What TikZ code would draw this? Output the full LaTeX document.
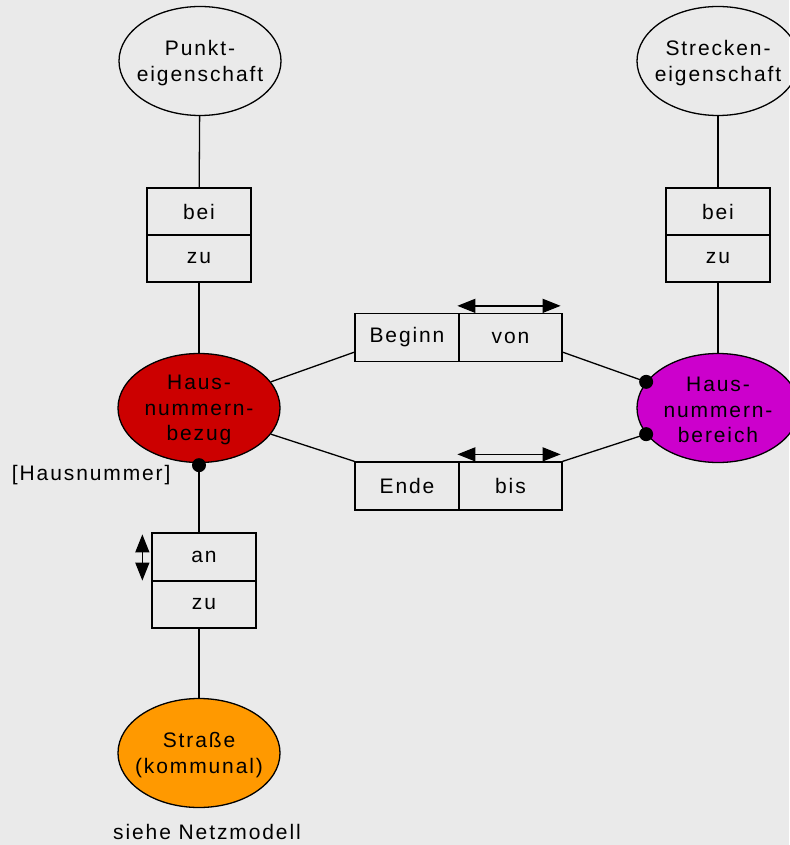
\documentclass[tikz,border=0pt]{standalone}
\usepackage{fontspec}
\setmainfont{Liberation Sans}[LetterSpace=9]
\usetikzlibrary{shapes.geometric,arrows.meta,calc}
\definecolor{bg}{RGB}{234,234,234}
\definecolor{redfill}{RGB}{204,0,0}
\definecolor{magfill}{RGB}{204,0,204}
\definecolor{orfill}{RGB}{255,153,0}
\begin{document}
\begin{tikzpicture}[x=1pt,y=1pt,
  every node/.style={font=\fontsize{21}{25.5}\selectfont},
  ent/.style={ellipse,draw,line width=1.3pt,minimum width=162pt,minimum height=109pt,inner sep=0pt},
  lbl/.style={align=center,inner sep=0pt},
  cell/.style={rectangle,draw,line width=1.3pt,minimum width=104pt,minimum height=47pt,inner sep=0pt},
  conn/.style={line width=1.3pt},
  dbl/.style={line width=1.3pt,{Triangle[length=18pt,width=14pt]}-{Triangle[length=18pt,width=14pt]}},
  dot/.style={circle,fill=black,minimum size=14pt,inner sep=0pt}
]
\fill[bg] (0,0) rectangle (789,-845);
\useasboundingbox (0,0) rectangle (789,-845);

% entities
\node[ent] (punkt) at (200,-61) {};
\node[lbl] (punktT) at ([yshift=-2pt]punkt.center) {Punkt-\\eigenschaft};
\node[ent] (strecke) at (718,-61) {};
\node[lbl] (streckeT) at ([yshift=-2pt]strecke.center) {Strecken-\\eigenschaft};
\node[ent,fill=redfill] (bezug) at (199,-408) {};
\node[lbl] (bezugT) at ([yshift=-2pt]bezug.center) {Haus-\\nummern-\\bezug};
\node[ent,fill=magfill] (bereich) at (718,-408) {};
\node[lbl] (bereichT) at ([yshift=-2pt]bereich.center) {Haus-\\nummern-\\bereich};
\node[ent,fill=orfill] (strasse) at (199,-753) {};
\node[lbl] (strasseT) at ([yshift=-2pt]strasse.center) {Straße\\(kommunal)};

% relation boxes
\node[cell] (bei1) at (199,-211.5) {bei};
\node[cell] (zu1) at (199,-258.5) {zu};
\node[cell] (bei2) at (718,-211.5) {bei};
\node[cell] (zu2) at (718,-258.5) {zu};
\node[cell,minimum height=48pt] (an) at (204,-557) {an};
\node[cell] (zu3) at (204,-604.5) {zu};
\node[cell,minimum height=48pt] (beg) at (407,-337.5) {Beginn};
\node[cell,minimum height=48pt,minimum width=103pt] (von) at (510.5,-337.5) {von};
\node[cell,minimum height=48pt] (ende) at (407,-486) {Ende};
\node[cell,minimum height=48pt,minimum width=103pt] (bis) at (510.5,-486) {bis};

% connectors
\draw[conn] (punkt) -- (bei1);
\draw[conn] (zu1) -- (bezug);
\draw[conn] (strecke) -- (bei2);
\draw[conn] (zu2) -- (bereich);
\draw[conn] (bezug.south) -- (bezug.south |- an.north);
\draw[conn] (strasse.north |- zu3.south) -- (strasse.north);
\draw[conn] (bezug.20) -- ($(beg.south west)+(0,10)$);
\draw[conn] ($(von.south east)+(0,10)$) -- (bereich.160);
\draw[conn] (bezug.-20) -- (ende.north west);
\draw[conn] (bis.north east) -- (bereich.200);

% dots
\node[dot] (d0) at ([yshift=-2pt]bezug.south) {};
\node[dot] (d1) at (bereich.160) {};
\node[dot] (d2) at (bereich.200) {};

% double arrows
\draw[dbl] ($(von.north west)+(-1,7)$) -- ($(von.north east)+(-2,7)$);
\draw[dbl] ($(bis.north west)+(-1,7)$) -- ($(bis.north east)+(-2,7)$);
\draw[dbl] ($(an.north west)+(-9,-2)$) -- ($(an.south west)+(-9,1)$);

% free texts
\node[anchor=east] (hn) at (174,-475) {[Hausnummer]};
\node (nm) at (207,-832) {siehe Netzmodell};
\end{tikzpicture}
\end{document}
